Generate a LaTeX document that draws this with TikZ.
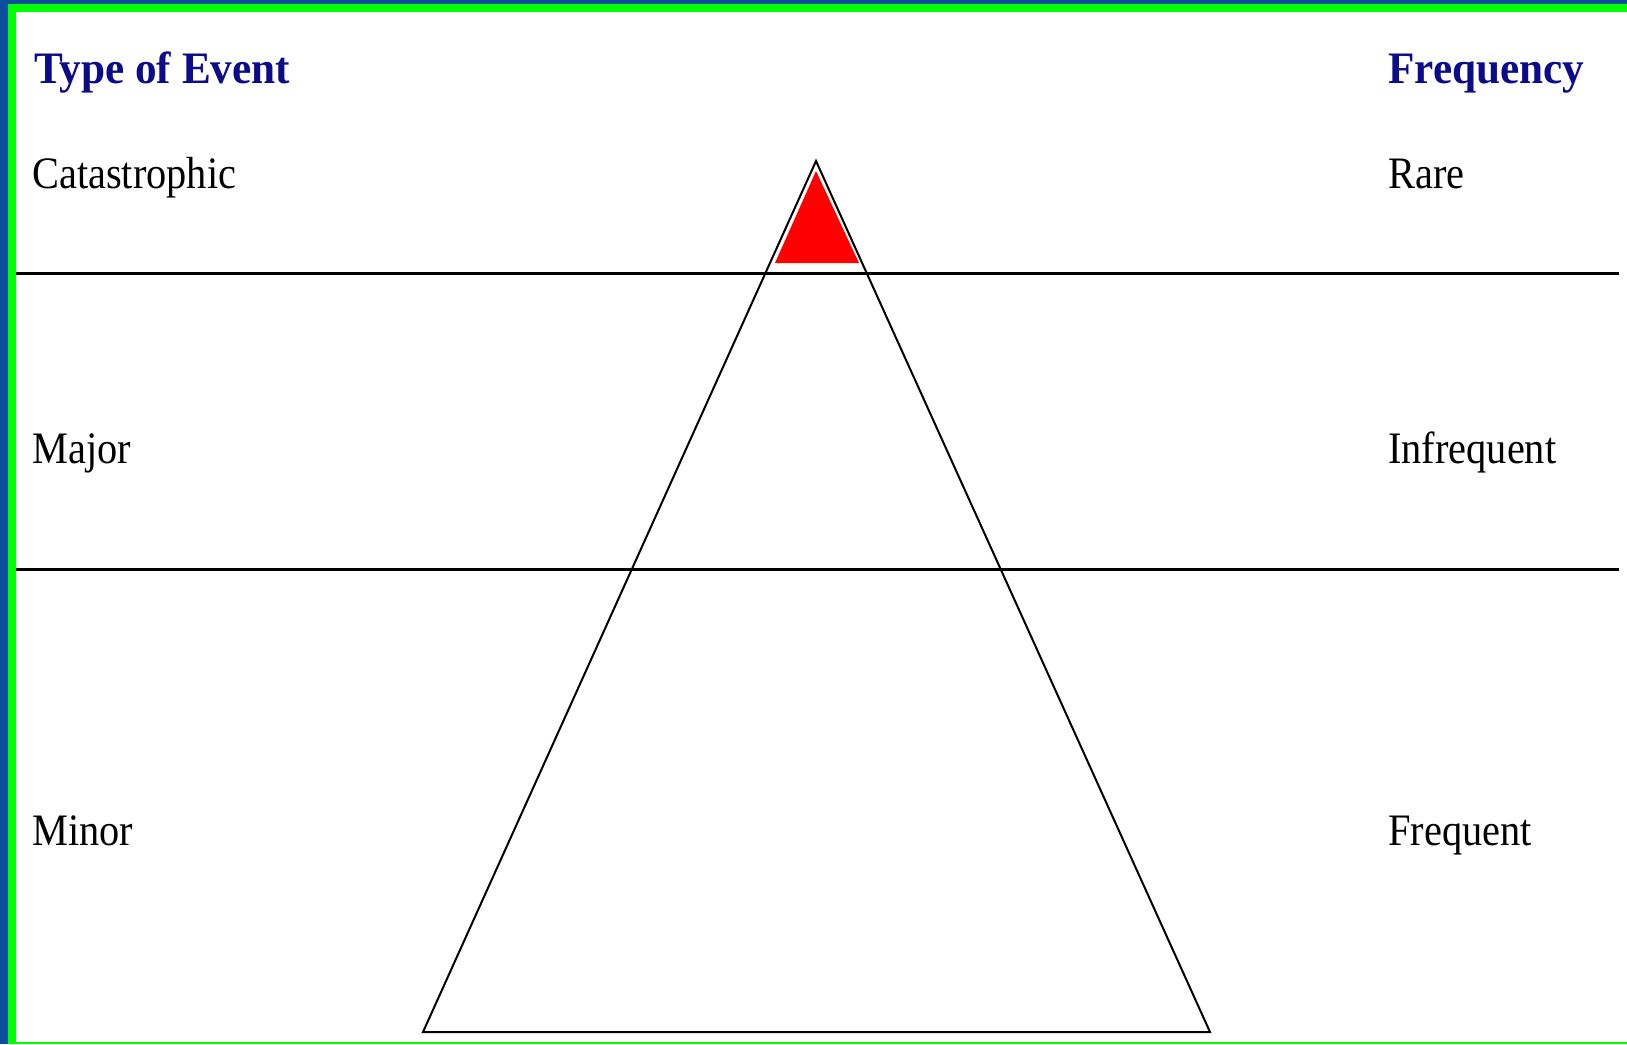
\documentclass[tikz,border=0pt]{standalone}
\usepackage{fontspec}
\setmainfont{Liberation Serif}[FakeStretch=0.897]
\newfontfamily\headfont{Liberation Serif}[FakeStretch=0.96]
\usepackage{xcolor}
\definecolor{FrameBlue}{HTML}{0B4E9B}
\definecolor{FrameGreen}{HTML}{00FF00}
\definecolor{HeadNavy}{HTML}{0C0C8A}
\definecolor{TopRed}{HTML}{FF0000}
\usepackage{tikz}
\usetikzlibrary{positioning}

\begin{document}
\begin{tikzpicture}[
  x=1pt,y=-1pt,
  evtext/.style={anchor=base west,inner sep=0pt,font=\fontsize{45}{50}\selectfont},
  headtext/.style={evtext,font=\fontsize{45}{50}\selectfont\headfont\bfseries,text=HeadNavy},
  band/.style={line width=3pt,black},
  pyr/.style={line width=2pt,black,line join=miter}
]
  % frame
  \fill[FrameBlue] (0,0) rectangle (1627,1044);
  \fill[FrameGreen] (8,4) rectangle (1627,1044);
  \fill[white] (16,12) rectangle (1627,1042);
  \useasboundingbox (0,0) rectangle (1627,1044);

  % headings and levels
  \node[headtext] (type) at (34,83) {Type of Event};
  \node[headtext] (freq) at (1388,83) {Frequency};
  \node[evtext] (cat) at (32,188) {Catastrophic};
  \node[evtext] (rare) at (1388,188) {Rare};
  \node[evtext] (major) at (32,463) {Major};
  \node[evtext] (infreq) at (1388,463) {Infrequent};
  \node[evtext] (minor) at (32,845) {Minor};
  \node[evtext] (frequent) at (1388,845) {Frequent};

  % band lines
  \coordinate (b1l) at (16,273);
  \coordinate (b1r) at (1619,273);
  \coordinate (b2l) at (16,569);
  \coordinate (b2r) at (1619,569);
  \draw[band] (b1l) -- (b1r);
  \draw[band] (b2l) -- (b2r);

  % pyramid
  \coordinate (apex) at (816,161);
  \coordinate (bl) at (423,1032);
  \coordinate (br) at (1210,1032);
  \fill[TopRed] (816,171) -- (859,263) -- (775,263) -- cycle;
  \draw[pyr] (apex) -- (br) -- (bl) -- cycle;
\end{tikzpicture}
\end{document}
